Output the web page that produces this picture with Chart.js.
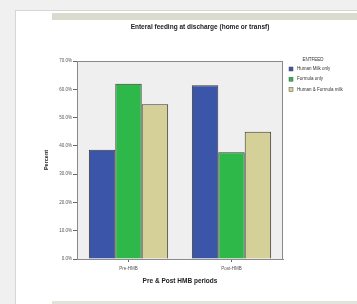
<!DOCTYPE html>
<html>
<head>
<meta charset="utf-8">
<script src="https://cdn.jsdelivr.net/npm/chart.js@4"></script>
<style>
  html, body { margin: 0; padding: 0; background: #f0f0f0; }
  #page { position: relative; width: 357px; height: 304px; overflow: hidden; }
  #panel { position: absolute; left: 15px; top: 10px; width: 342px; height: 294px; background: #fff; border-left: 1px solid #d6d6d6; border-top: 1px solid #d6d6d6; }
  #topbar { position: absolute; left: 52px; top: 13px; width: 305px; height: 7px; background: #d9dbcf; }
  #botbar { position: absolute; left: 52px; top: 301px; width: 305px; height: 3px; background: #e2e3da; }
  canvas { position: absolute; left: 0; top: 0; }
</style>
</head>
<body>
<div id="page">
  <div id="panel"></div>
  <div id="topbar"></div>
  <div id="botbar"></div>
  <canvas id="myChart" width="357" height="304"></canvas>
</div>
<script>
// 데이터
const periods = ['Pre-HMB', 'Post-HMB'];
const feedTypes = ['Human Milk only', 'Formula only', 'Human & Formula milk'];
const humanMilk = [38.6, 61.4];
const formulaOnly = [62.0, 37.7];
const humanFormula = [54.7, 45.0];
const feedColors = ['#3b56a8', '#2eb84a', '#d5d097'];
const chartTitle = 'Enteral feeding at discharge (home or transf)';
const legendTitle = 'ENTFEED';

// 제목, 범례, 배경 그리기
const extras = {
  id: 'extras',
  beforeDatasetsDraw(chart) {
    const a = chart.chartArea;
    const c = chart.ctx;
    c.save();
    c.fillStyle = '#efefef';
    c.fillRect(a.left, a.top, a.right - a.left, a.bottom - a.top);
    c.restore();
  },
  afterDraw(chart) {
    const a = chart.chartArea;
    const c = chart.ctx;
    c.save();
    c.strokeStyle = '#8a8a8a';
    c.lineWidth = 1;
    c.strokeRect(a.left + 0.5, a.top + 0.5, a.right - a.left - 1, a.bottom - a.top);
    // title
    c.fillStyle = '#222';
    c.font = 'bold 6.5px "Liberation Sans", Arial';
    c.textAlign = 'center';
    c.textBaseline = 'middle';
    c.fillText(chartTitle, 200, 27);
    // legend
    c.font = '4.5px "Liberation Sans", Arial';
    c.fillStyle = '#333';
    c.fillText(legendTitle, 313, 60);
    c.textAlign = 'left';
    chart.data.datasets.forEach(function(ds, i) {
      const y = 69 + i * 10.2;
      c.fillStyle = ds.backgroundColor;
      c.fillRect(289, y - 2, 4, 4);
      c.strokeStyle = '#555';
      c.lineWidth = 0.5;
      c.strokeRect(289, y - 2, 4, 4);
      c.fillStyle = '#333';
      c.fillText(ds.label, 297, y);
    });
    c.restore();
  }
};

const ctx = document.getElementById('myChart').getContext('2d');
const myChart = new Chart(ctx, {
  type: 'bar',
  data: {
    labels: periods,
    datasets: [
      { label: feedTypes[0], data: humanMilk, backgroundColor: feedColors[0] },
      { label: feedTypes[1], data: formulaOnly, backgroundColor: feedColors[1] },
      { label: feedTypes[2], data: humanFormula, backgroundColor: feedColors[2] }
    ]
  },
  options: {
    responsive: false,
    animation: false,
    layout: { padding: { left: 43, top: 61, right: 74, bottom: 19 } },
    datasets: {
      bar: {
        borderColor: '#3a3a3a',
        borderWidth: 1,
        borderSkipped: 'bottom',
        categoryPercentage: 0.77,
        barPercentage: 1
      }
    },
    plugins: {
      legend: { display: false },
      title: { display: false },
      tooltip: { enabled: false }
    },
    scales: {
      y: {
        min: 0,
        max: 70,
        ticks: {
          stepSize: 10,
          color: '#555',
          padding: 1,
          font: { size: 4.5, family: '"Liberation Sans", Arial' },
          callback: function(v) { return v.toFixed(1) + '%'; }
        },
        grid: { drawOnChartArea: false, tickLength: 4, color: '#666' },
        border: { color: '#8a8a8a' },
        title: {
          display: true,
          text: 'Percent',
          color: '#222',
          padding: 0,
          font: { size: 5.5, weight: 'bold', family: '"Liberation Sans", Arial' }
        },
        afterFit: function(scale) { scale.width = 34; }
      },
      x: {
        offset: true,
        ticks: {
          color: '#555',
          padding: 4,
          font: { size: 4.5, family: '"Liberation Sans", Arial' }
        },
        grid: { display: true, drawOnChartArea: false, offset: false, tickLength: 3, color: '#666' },
        border: { color: '#8a8a8a' },
        title: {
          display: true,
          text: 'Pre & Post HMB periods',
          color: '#222',
          padding: { top: 0, bottom: 0 },
          font: { size: 6.5, weight: 'bold', family: '"Liberation Sans", Arial' }
        },
        afterFit: function(scale) { scale.height = 26; }
      }
    }
  },
  plugins: [extras]
});
</script>
</body>
</html>
